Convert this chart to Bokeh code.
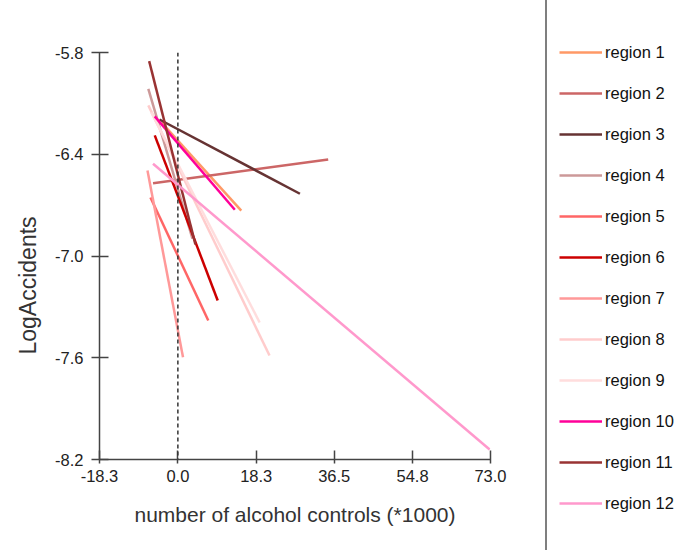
from bokeh.plotting import figure
from bokeh.models import (ColumnDataSource, Range1d, FixedTicker, PrintfTickFormatter,
                          Span, Legend, LegendItem, Title)
from bokeh.embed import file_html
from bokeh.resources import INLINE

# ---- data ----
regions = ["region 1", "region 2", "region 3", "region 4", "region 5", "region 6",
           "region 7", "region 8", "region 9", "region 10", "region 11", "region 12"]
colors = ["#FF9966", "#CC6666", "#663333", "#CC9999", "#FF6666", "#CC0000",
          "#FF9999", "#FFCCCC", "#FFDDDD", "#FF0099", "#993333", "#FF99CC"]
x_start = [-3.8, -5.8, -4.3, -6.9, -6.4, -5.4, -7.1, -6.9, -6.2, -5.4, -6.7, -5.8]
y_start = [-6.213, -6.571, -6.195, -6.014, -6.655, -6.289, -6.496, -6.112, -6.154, -6.177, -5.851, -6.456]
x_end = [14.8, 35.1, 28.5, 3.4, 7.1, 9.3, 1.2, 21.4, 19.1, 13.3, 4.1, 72.8]
y_end = [-6.732, -6.431, -6.633, -6.897, -7.380, -7.262, -7.597, -7.587, -7.392, -6.727, -6.932, -8.141]
x_ticks = [-18.3, 0.0, 18.3, 36.5, 54.8, 73.0]
y_ticks = [-5.8, -6.4, -7.0, -7.6, -8.2]

FONT = "Liberation Sans"

p = figure(frame_width=391, frame_height=407, output_backend="svg", toolbar_location=None,
           x_range=Range1d(x_ticks[0], x_ticks[-1]), y_range=Range1d(y_ticks[-1], y_ticks[0]),
           min_border_left=98, min_border_right=196, min_border_top=52, min_border_bottom=91)
p.outline_line_color = None
p.xgrid.visible = False
p.ygrid.visible = False

src = ColumnDataSource(dict(x0=x_start, y0=y_start, x1=x_end, y1=y_end, color=colors))
seg = p.segment("x0", "y0", "x1", "y1", source=src, line_color="color", line_width=2.5)
# invisible copy, used only for spacer rows of the legend frame
ghost = p.segment("x0", "y0", "x1", "y1", source=src, line_alpha=0)

p.add_layout(Span(location=0, dimension="height", line_color="#333333",
                  line_dash="4 3", line_width=1.5))

for ax in (p.xaxis[0], p.yaxis[0]):
    ax.axis_line_color = "#444444"
    ax.axis_line_width = 1.5
    ax.major_tick_line_color = "#444444"
    ax.major_tick_line_width = 1.5
    ax.minor_tick_line_color = None
    ax.major_label_text_font = FONT
    ax.major_label_text_font_size = "16.5px"
    ax.major_label_text_color = "#222222"
    ax.axis_label_text_font = FONT
    ax.axis_label_text_font_size = "21px"
    ax.axis_label_text_font_style = "normal"
    ax.axis_label_text_color = "#333333"

p.xaxis.ticker = FixedTicker(ticks=x_ticks)
p.xaxis.formatter = PrintfTickFormatter(format="%.1f")
p.xaxis.major_tick_in = 9
p.xaxis.major_tick_out = 4
p.xaxis.major_label_standoff = 6
p.xaxis.axis_label = "number of alcohol controls (*1000)"
p.xaxis.axis_label_standoff = 18

p.yaxis.ticker = FixedTicker(ticks=y_ticks)
p.yaxis.formatter = PrintfTickFormatter(format="%.1f")
p.yaxis.major_tick_in = 9
p.yaxis.major_tick_out = 8
p.yaxis.major_label_standoff = 8

# y axis title (sits a little below the middle of the axis, as in the original)
p.add_layout(Title(text="LogAccidents", align="left", offset=105, standoff=24,
                   text_font=FONT, text_font_size="23px", text_font_style="normal",
                   text_color="#333333"), "left")

# legend: its black frame gives the full-height separator line on the left
items = [LegendItem(label="", renderers=[ghost], index=0)]
items += [LegendItem(label=reg, renderers=[seg], index=i) for i, reg in enumerate(regions)]
items += [LegendItem(label="", renderers=[ghost], index=0)]
legend = Legend(items=items, location=(55, -109), padding=12, margin=0, spacing=21,
                glyph_width=43, glyph_height=20, label_height=20, label_width=80,
                label_standoff=3, border_line_color="black", border_line_width=2,
                background_fill_alpha=0,
                label_text_font=FONT, label_text_font_size="16.5px",
                label_text_color="#111111")
p.add_layout(legend, "right")

open("out.html", "w").write(file_html(p, INLINE))
